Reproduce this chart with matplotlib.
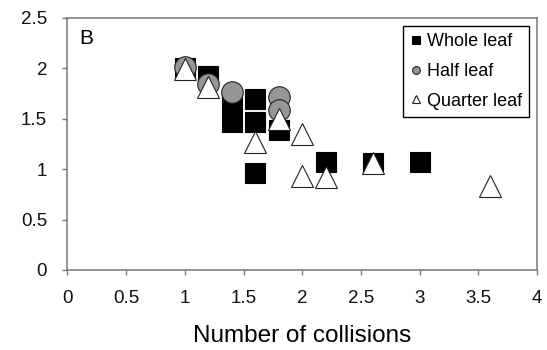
import matplotlib
matplotlib.use('Agg')
import matplotlib.pyplot as plt

plt.rcParams['font.family'] = ['Liberation Sans', 'DejaVu Sans']

# data
whole_x = [1.0, 1.2, 1.4, 1.4, 1.6, 1.6, 1.6, 1.8, 2.2, 2.6, 3.0]
whole_y = [2.0, 1.92, 1.67, 1.47, 1.70, 1.47, 0.96, 1.39, 1.07, 1.06, 1.07]

half_x = [1.0, 1.2, 1.4, 1.8, 1.8]
half_y = [2.01, 1.85, 1.77, 1.72, 1.59]

quarter_x = [1.0, 1.2, 1.6, 1.8, 2.0, 2.0, 2.2, 2.6, 3.6]
quarter_y = [1.99, 1.82, 1.27, 1.50, 1.35, 0.93, 0.92, 1.06, 0.83]

xticks = [0, 0.5, 1, 1.5, 2, 2.5, 3, 3.5, 4]
yticks = [0, 0.5, 1, 1.5, 2, 2.5]

fig = plt.figure(figsize=(5.47, 3.5), dpi=100)
ax = fig.add_axes([0.1234, 0.2286, 0.8583, 0.72])

ax.plot(whole_x, whole_y, linestyle='none', marker='s', ms=15,
        mfc='black', mec='black', mew=0.8, label='Whole leaf')
ax.plot(half_x, half_y, linestyle='none', marker='o', ms=15.5,
        mfc='#969696', mec='#222222', mew=0.8, label='Half leaf')
ax.plot(quarter_x, quarter_y, linestyle='none', marker='^', ms=16,
        mfc='white', mec='#222222', mew=0.8, label='Quarter leaf')

ax.set_xlim(0, 4)
ax.set_ylim(0, 2.5)
ax.set_xticks(xticks)
ax.set_xticklabels(['0', '0.5', '1', '1.5', '2', '2.5', '3', '3.5', '4'])
ax.set_yticks(yticks)
ax.set_yticklabels(['0', '0.5', '1', '1.5', '2', '2.5'])

for s in ax.spines.values():
    s.set_color('#777777')
    s.set_linewidth(1.1)
ax.tick_params(axis='both', direction='out', length=3.6, width=1.0,
               color='#777777', labelsize=13.5, labelcolor='#111111')
ax.tick_params(axis='x', pad=11)
ax.tick_params(axis='y', pad=11)

ax.set_xlabel('Number of collisions', fontsize=17.5, labelpad=13)

ax.text(0.025, 0.955, 'B', transform=ax.transAxes, fontsize=15,
        va='top', ha='left')

leg = ax.legend(loc='upper right', bbox_to_anchor=(0.983, 0.968),
                fontsize=13, markerscale=0.36, handlelength=0.6,
                handletextpad=0.3, labelspacing=0.7, borderpad=0.4,
                borderaxespad=0, fancybox=False, framealpha=1,
                edgecolor='black')
leg.get_frame().set_linewidth(1.0)

plt.savefig('out.png', dpi=100)
plt.close()
